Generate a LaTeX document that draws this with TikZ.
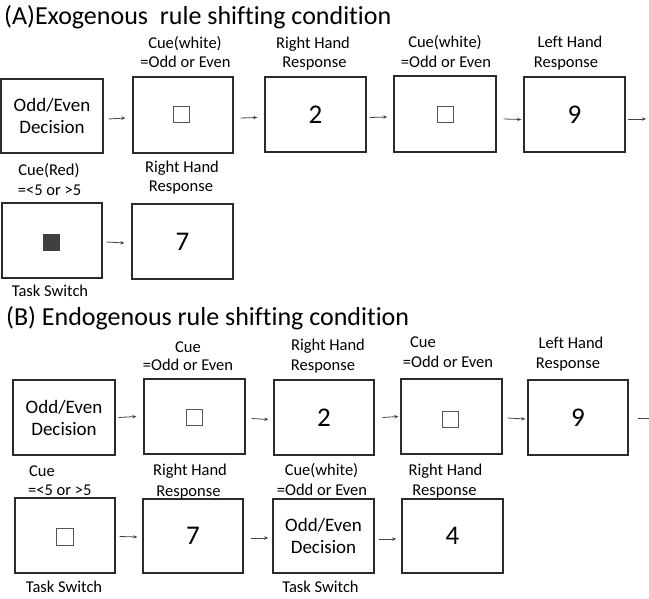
\documentclass[tikz,border=0pt]{standalone}
\usepackage{fontspec}
\setmainfont[Ligatures=NoCommon]{Carlito}
\usetikzlibrary{arrows.meta}
\definecolor{boxc}{HTML}{2B2B2B}
\definecolor{arrc}{HTML}{444444}
\definecolor{cuec}{HTML}{555555}
\definecolor{cuefillc}{HTML}{404040}
\tikzset{
  box/.style={draw=boxc, line width=1.4pt, fill=white, inner sep=0pt, align=center},
  boxtxt/.style={font=\fontsize{19}{22}\selectfont},
  digit/.style={font=\fontsize{27}{30}\selectfont},
  lab/.style={font=\fontsize{16.5}{19}\selectfont, inner sep=0pt, anchor=base},
  labl/.style={lab, anchor=base west},
  cuesq/.style={draw=cuec, line width=0.9pt, minimum size=16pt, inner sep=0pt},
  cuefill/.style={cuesq, fill=cuefillc, draw=cuefillc},
  arr/.style={draw=arrc, line width=0.8pt, -{Stealth[length=4pt,width=3.5pt]}},
  ttl/.style={font=\fontsize{26}{30}\selectfont, anchor=base west, inner sep=0pt}
}
\begin{document}
\begin{tikzpicture}[x=1pt,y=-1pt]
\useasboundingbox (0,0) rectangle (649,599);
% titles
\node[ttl] (tA) at (4,25) {(A)Exogenous\ \ rule shifting condition};
\node[ttl] (tB) at (6,326) {(B) Endogenous rule shifting condition};

% ---------- A row 1 ----------
\node[box, boxtxt, minimum width=102pt, minimum height=74pt] (A1) at (52,116) {Odd/Even\\Decision};
\node[box, minimum width=100pt, minimum height=76pt] (A2) at (183,115) {};
\node[box, digit, minimum width=101pt, minimum height=75pt] (A3) at (315.5,114.5) {2};
\node[box, minimum width=102pt, minimum height=76pt] (A4) at (445,114) {};
\node[box, digit, minimum width=101pt, minimum height=75pt] (A5) at (574.5,114.5) {9};
\node[cuesq] (qA2) at (181.5,114) {};
\node[cuesq] (qA4) at (445,114.5) {};
\coordinate (endA) at (646,119);

\node[lab] (lA2a) at (185,48.5) {Cue(white)};
\node[lab] (lA2b) at (185.5,67.5) {=Odd or Even};
\node[lab] (lA3a) at (313,48.5) {Right Hand};
\node[lab] (lA3b) at (314.5,67.5) {Response};
\node[lab] (lA4a) at (445,47.5) {Cue(white)};
\node[lab] (lA4b) at (446,67.5) {=Odd or Even};
\node[lab] (lA5a) at (570,47.5) {Left Hand};
\node[lab] (lA5b) at (566,67.5) {Response};

\draw[arr] ([xshift=5pt,yshift=-3pt]A1.east) -- ([xshift=-7pt,yshift=-3pt]A2.west);
\draw[arr] ([xshift=7pt,yshift=-3pt]A2.east) -- ([xshift=-7pt,yshift=-3pt]A3.west);
\draw[arr] ([xshift=3pt,yshift=-3pt]A3.east) -- ([xshift=-6pt,yshift=-3pt]A4.west);
\draw[arr] ([xshift=7pt,yshift=-5pt]A4.east) -- ([xshift=-2pt,yshift=-5pt]A5.west);
\draw[arr] ([xshift=2pt]A5.east |- endA) -- (endA);

% ---------- A row 2 ----------
\node[box, minimum width=100pt, minimum height=75pt] (A6) at (52,240.5) {};
\node[cuefill] (qA6) at (51,242.5) {};
\node[box, digit, minimum width=101pt, minimum height=75pt] (A7) at (182.5,241.5) {7};
\node[lab] (lA6a) at (49,175.5) {Cue(Red)};
\node[lab] (lA6b) at (49.5,195.5) {=<5 or >5};
\node[lab] (lA7a) at (182,172.5) {Right Hand};
\node[lab] (lA7b) at (181,191.5) {Response};
\node[lab] (lA6c) at (50,296.5) {Task Switch};
\draw[arr] ([xshift=4pt,yshift=-1.5pt]A6.east) -- ([xshift=-7pt,yshift=-1.5pt]A7.west);

% ---------- B row 1 ----------
\node[box, boxtxt, minimum width=102pt, minimum height=75pt] (B1) at (64,417.5) {Odd/Even\\Decision};
\node[box, minimum width=101pt, minimum height=75pt] (B2) at (194.5,416.5) {};
\node[box, digit, minimum width=100pt, minimum height=75pt] (B3) at (324,417.5) {2};
\node[box, minimum width=101pt, minimum height=75pt] (B4) at (451.5,416.5) {};
\node[box, digit, minimum width=100pt, minimum height=75pt] (B5) at (578,417.5) {9};
\node[cuesq] (qB2) at (194,417.5) {};
\node[cuesq] (qB4) at (450.5,419) {};
\coordinate (endB) at (649,418);

\node[lab] (lB2a) at (188,352.5) {Cue};
\node[lab] (lB2b) at (188,370.5) {=Odd or Even};
\node[lab] (lB3a) at (328,350.5) {Right Hand};
\node[lab] (lB3b) at (323,370.5) {Response};
\node[labl] (lB4a) at (410,347.5) {Cue};
\node[lab] (lB4b) at (448,367.5) {=Odd or Even};
\node[lab] (lB5a) at (571,348.5) {Left Hand};
\node[lab] (lB5b) at (568,368.5) {Response};

\draw[arr] ([xshift=3pt]B1.east) -- ([xshift=-7pt]B2.west);
\draw[arr] ([xshift=6pt,yshift=-2pt]B2.east) -- ([xshift=-5pt,yshift=-2pt]B3.west);
\draw[arr] ([xshift=8pt]B3.east) -- ([xshift=-2pt]B4.west);
\draw[arr] ([xshift=5pt,yshift=-1.5pt]B4.east) -- ([xshift=-2pt,yshift=-1.5pt]B5.west);
\draw[draw=arrc, line width=0.8pt] ([xshift=9pt]B5.east |- endB) -- (endB);

% ---------- B row 2 ----------
\node[box, minimum width=100pt, minimum height=75pt] (B6) at (65,535.5) {};
\node[cuesq, minimum size=17pt] (qB6) at (64.5,536.5) {};
\node[box, digit, minimum width=100pt, minimum height=74pt] (B7) at (193,536) {7};
\node[box, boxtxt, minimum width=101pt, minimum height=74pt] (B8) at (323.5,536) {Odd/Even\\Decision};
\node[box, digit, minimum width=101pt, minimum height=74pt] (B9) at (452.5,536) {4};

\node[labl] (lB6a) at (29,476.5) {Cue};
\node[labl] (lB6b) at (28,495.5) {=<5 or >5};
\node[lab] (lB7a) at (190,475.5) {Right Hand};
\node[lab] (lB7b) at (188.5,496.5) {Response};
\node[lab] (lB8a) at (321.5,475.5) {Cue(white)};
\node[lab] (lB8b) at (322,495.5) {=Odd or Even};
\node[lab] (lB9a) at (445.5,475.5) {Right Hand};
\node[lab] (lB9b) at (444.5,495.5) {Response};
\node[lab] (lB6c) at (64,592.5) {Task Switch};
\node[lab] (lB8c) at (320.5,592.5) {Task Switch};

\draw[arr] ([xshift=4pt,yshift=-1pt]B6.east) -- ([xshift=-5pt,yshift=-1pt]B7.west);
\draw[arr] ([xshift=7pt,yshift=-2pt]B7.east) -- ([xshift=-4pt,yshift=-2pt]B8.west);
\draw[arr] ([xshift=4pt,yshift=-3pt]B8.east) -- ([xshift=-5pt,yshift=-3pt]B9.west);
\end{tikzpicture}
\end{document}
